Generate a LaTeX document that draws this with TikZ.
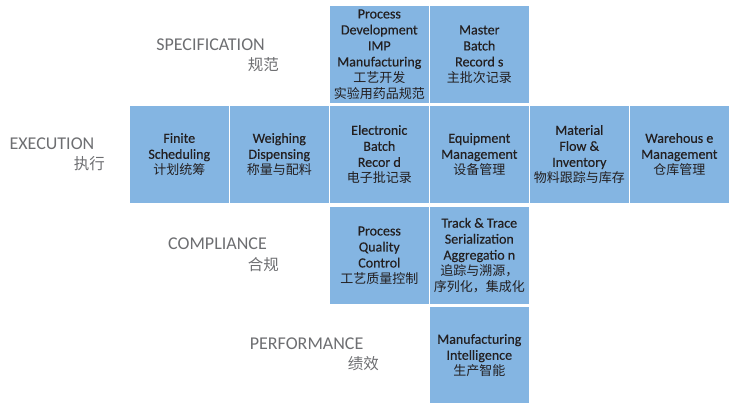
\documentclass[tikz,border=0pt]{standalone}
\usepackage{fontspec}
\setmainfont{Carlito}
\newfontfamily\boxfont{Carlito}[FakeBold=0.35]
\newfontfamily\cjk{Noto Sans CJK SC}
\definecolor{boxblue}{RGB}{132,181,226}
\definecolor{boxtext}{RGB}{35,31,32}
\definecolor{labgrey}{RGB}{109,110,113}
\newcommand{\zh}[1]{{\cjk\fontsize{13}{16}\selectfont #1}}
\newcommand{\zhlab}[1]{{\cjk\fontsize{15.5}{18}\selectfont #1}}
\tikzset{
  cell/.style={fill=boxblue, draw=none, minimum width=98.5pt, minimum height=97pt,
    inner sep=0pt, align=center, text=boxtext, font=\boxfont\fontsize{14}{16}\selectfont},
  enlab/.style={anchor=east, inner sep=0pt, text=labgrey, font=\fontsize{18}{20}\selectfont},
  zhlabel/.style={anchor=east, inner sep=0pt, text=labgrey},
}
\begin{document}
\begin{tikzpicture}[x=1pt, y=-1pt]
\useasboundingbox (0,0) rectangle (735,403);
\begin{scope}
\clip (0,0) rectangle (735,403);
% row 0
\node[cell] (pd) at (379.3,54.5) {Process\\Development\\IMP\\Manufacturing\\\zh{工艺开发}\\\zh{实验用药品规范}};
\node[cell] (mbr) at (479.3,54.5) {Master\\Batch\\Record s\\\zh{主批次记录}};
% row 1
\node[cell] (fs) at (179.3,154.5) {Finite\\Scheduling\\\zh{计划统筹}};
\node[cell] (wd) at (279.3,154.5) {Weighing\\Dispensing\\\zh{称量与配料}};
\node[cell] (ebr) at (379.3,154.5) {Electronic\\Batch\\Recor d\\\zh{电子批记录}};
\node[cell] (em) at (479.3,154.5) {Equipment\\Management\\\zh{设备管理}};
\node[cell] (mfi) at (579.3,154.5) {Material\\Flow \&\\Inventory\\\zh{物料跟踪与库存}};
\node[cell] (wm) at (679.3,154.5) {Warehous e\\Management\\\zh{仓库管理}};
% row 2
\node[cell] (pqc) at (379.3,255.5) {Process\\Quality\\Control\\\zh{工艺质量控制}};
\node[cell] (tt) at (479.3,255.5) {Track \& Trace\\Serialization\\Aggregatio n\\\zh{追踪与溯源，}\\\zh{序列化，集成化}};
% row 3
\node[cell] (mi) at (479.3,355.5) {Manufacturing\\Intelligence\\\zh{生产智能}};
\end{scope}
% labels
\node[enlab] (spec) at (265,45) {SPECIFICATION};
\node[zhlabel] (specz) at (279,65) {\zhlab{规范}};
\node[enlab] (exec) at (94.5,144) {EXECUTION};
\node[zhlabel] (execz) at (105,163.5) {\zhlab{执行}};
\node[enlab] (comp) at (267,244) {COMPLIANCE};
\node[zhlabel] (compz) at (279,264.5) {\zhlab{合规}};
\node[enlab] (perf) at (363.5,343.5) {PERFORMANCE};
\node[zhlabel] (perfz) at (379,363.5) {\zhlab{绩效}};
\end{tikzpicture}
\end{document}
